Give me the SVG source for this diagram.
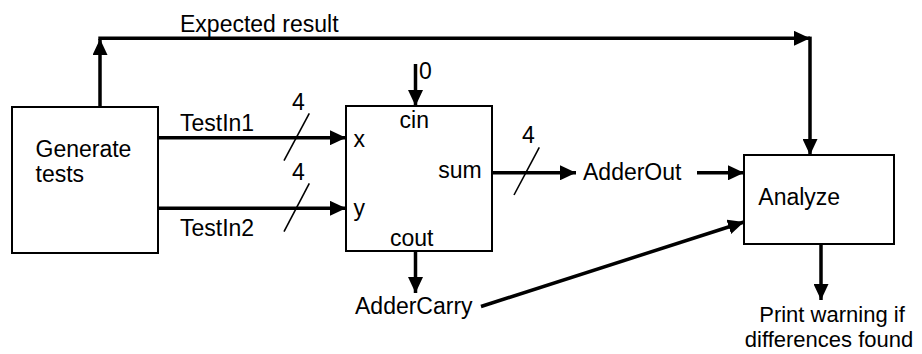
<svg xmlns="http://www.w3.org/2000/svg" width="922" height="354" viewBox="0 0 922 354">
<style>
.box{fill:#fff;stroke:#000;stroke-width:2}
.t{font-family:"Liberation Sans",Arial,sans-serif;font-size:23px;fill:#000}
.s{font-size:22px}
.m{text-anchor:middle}
.w{fill:none;stroke:#000;stroke-width:3.5}
.sl{fill:none;stroke:#000;stroke-width:1.6}
</style>
<defs>
<marker id="ah" markerUnits="userSpaceOnUse" markerWidth="17" markerHeight="15" refX="16" refY="7.5" orient="auto">
<path d="M0,0 L16,7.5 L0,15 z" fill="#000"/>
</marker>
</defs>
<rect width="922" height="354" fill="#fff"/>
<g id="connectors">
<path class="w" d="M100,107 V39" marker-end="url(#ah)"/>
<path class="w" d="M98.3,38.3 H810" marker-end="url(#ah)"/>
<path class="w" d="M810,36.6 V155" marker-end="url(#ah)"/>
<path class="w" d="M158,137.7 H346" marker-end="url(#ah)"/>
<path class="w" d="M158,208.3 H346" marker-end="url(#ah)"/>
<path class="w" d="M415.5,64 V106" marker-end="url(#ah)"/>
<path class="w" d="M415.5,251 V293" marker-end="url(#ah)"/>
<path class="w" d="M492,172.8 H576" marker-end="url(#ah)"/>
<path class="w" d="M697,172.8 H744" marker-end="url(#ah)"/>
<path class="w" d="M481,306.5 L744,222" marker-end="url(#ah)"/>
<path class="w" d="M821,244 V300" marker-end="url(#ah)"/>
<path class="sl" d="M284,160.7 L309.3,113.3"/>
<path class="sl" d="M284,231.7 L309.3,183.3"/>
<path class="sl" d="M514,195 L539.3,147.3"/>
<text class="t" x="180" y="31.5">Expected result</text>
<text class="t" x="180" y="131">TestIn1</text>
<text class="t" x="180" y="236">TestIn2</text>
<text class="t m" x="298.5" y="110">4</text>
<text class="t m" x="298.5" y="180">4</text>
<text class="t m" x="528.5" y="142.5">4</text>
<text class="t" x="419" y="79">0</text>
<text class="t" x="583" y="179.5">AdderOut</text>
<text class="t" x="355" y="313.5">AdderCarry</text>
<text class="t s m" x="832" y="322">Print warning if</text>
<text class="t s m" x="829" y="347">differences found</text>
</g>
<g id="generate">
<rect class="box" x="12" y="107" width="146" height="146"/>
<text class="t" x="35.5" y="156.5">Generate</text>
<text class="t" x="35.5" y="182">tests</text>
</g>
<g id="adder">
<rect class="box" x="346" y="106" width="146" height="145"/>
<text class="t m" x="414.3" y="128">cin</text>
<text class="t" x="353.5" y="146.5">x</text>
<text class="t" x="353.5" y="215.5">y</text>
<text class="t" x="481.7" y="178.3" text-anchor="end">sum</text>
<text class="t m" x="411.7" y="246">cout</text>
</g>
<g id="analyze">
<rect class="box" x="744" y="155" width="150" height="89"/>
<text class="t" x="758.3" y="205">Analyze</text>
</g>
</svg>
